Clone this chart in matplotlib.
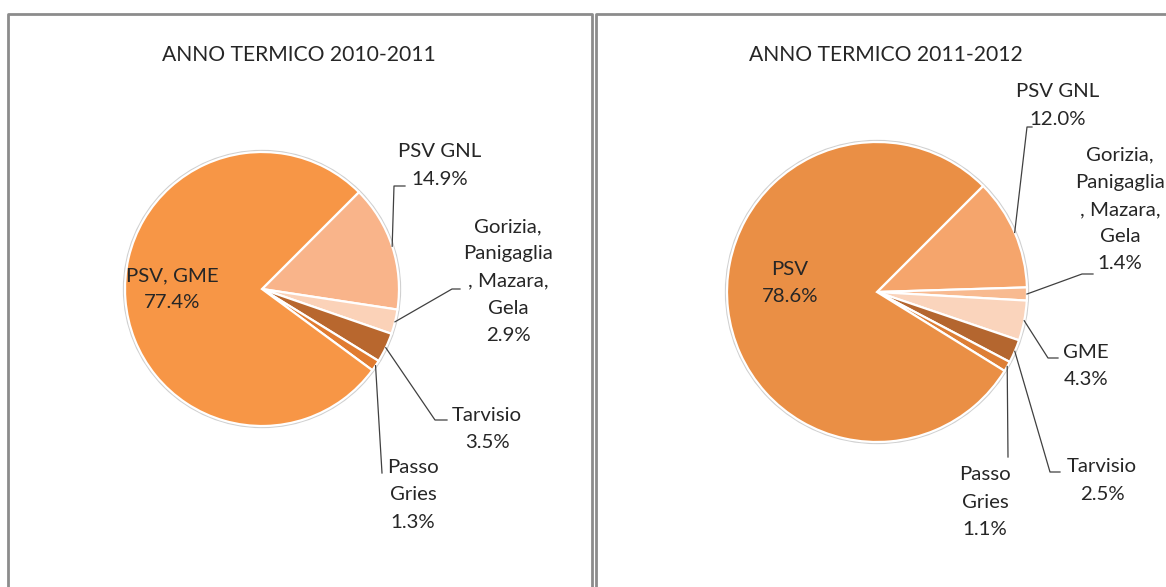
import matplotlib
matplotlib.use("Agg")
import matplotlib.pyplot as plt
from matplotlib.patches import Circle
import numpy as np

# ---------------- data ----------------
title_left = "ANNO TERMICO 2010-2011"
title_right = "ANNO TERMICO 2011-2012"

left_labels = ["PSV GNL", "Gorizia,\nPanigaglia\n, Mazara,\nGela", "Tarvisio", "Passo\nGries", "PSV, GME"]
left_values = [14.9, 2.9, 3.5, 1.3, 77.4]
left_colors = ["#F9B48A", "#FBD2B8", "#B8672E", "#E07B30", "#F79646"]

right_labels = ["PSV GNL", "Gorizia,\nPanigaglia\n, Mazara,\nGela", "GME", "Tarvisio", "Passo\nGries", "PSV"]
right_values = [12.0, 1.4, 4.3, 2.5, 1.1, 78.6]
right_colors = ["#F5A56C", "#F8BA90", "#FAD4BC", "#B4662F", "#DD7E35", "#EA8F45"]

# ---------------- layout (image pixel coords, y downwards) ----------------
W, H = 1166, 587
FONT = ["Lato", "DejaVu Sans"]
TXT = "#262626"

def Y(y):
    return H - y

fig = plt.figure(figsize=(W / 100, H / 100), dpi=100)
ax = fig.add_axes([0, 0, 1, 1])

def draw_pie(values, labels, colors, center, radius, label_pos, leaders, inside_pos):
    cx, cy = center[0], Y(center[1])
    ax.add_patch(Circle((cx, cy), radius + 1.2, facecolor="none",
                        edgecolor="#d0d0d0", lw=1.4, zorder=0))
    wedges, _ = ax.pie(values, colors=colors, startangle=45, counterclock=False,
                       center=(cx, cy), radius=radius, frame=True,
                       wedgeprops=dict(edgecolor="white", linewidth=1.6))
    n = len(values)
    for i in range(n):
        txt = f"{labels[i]}\n{values[i]:.1f}%"
        if i == n - 1:
            px, py = inside_pos
        else:
            px, py = label_pos[i]
            w = wedges[i]
            th = np.deg2rad((w.theta1 + w.theta2) / 2)
            sx = cx + radius * np.cos(th)
            sy = cy + radius * np.sin(th)
            xs = [sx] + [p[0] for p in leaders[i]]
            ys = [sy] + [Y(p[1]) for p in leaders[i]]
            ax.plot(xs, ys, color="#404040", lw=0.9, zorder=3)
        ax.text(px, Y(py), txt, ha="center", va="center", fontsize=14.7,
                color=TXT, family=FONT, linespacing=1.72, zorder=4)

draw_pie(left_values, left_labels, left_colors, (262, 289), 137,
         [(440, 165.5), (508, 281), (487, 429), (413, 495)],
         [[(394, 186), (405, 186)], [(452, 289), (460, 289)],
          [(435, 420), (447, 420)], [(382, 473)]],
         (172, 289))

draw_pie(right_values, right_labels, right_colors, (877, 292), 150,
         [(1058, 105.5), (1120, 209.5), (1086, 366), (1102, 480.5), (985, 502)],
         [[(1027, 127), (1032, 127)], [(1082, 274), (1093, 274)],
          [(1048, 358), (1058, 358)], [(1050, 472), (1060, 472)], [(1008, 457)]],
         (790, 283))

ax.text(299, Y(55), title_left, ha="center", va="center", fontsize=15.2,
        color=TXT, family=FONT)
ax.text(886, Y(55), title_right, ha="center", va="center", fontsize=15.2,
        color=TXT, family=FONT)

# panel borders
bc = "#8c8c8c"
ax.plot([8, 8, 592, 592], [0, Y(14), Y(14), 0], color=bc, lw=2, zorder=5)
ax.plot([596, 596, W + 5], [0, Y(14), Y(14)], color=bc, lw=2, zorder=5)

ax.set_xlim(0, W)
ax.set_ylim(0, H)
ax.set_aspect("auto")
ax.axis("off")
fig.savefig("out.png", dpi=100, facecolor="white")
